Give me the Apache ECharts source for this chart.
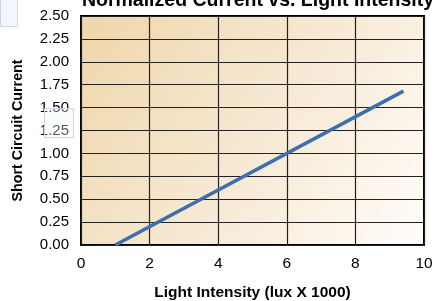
<!DOCTYPE html>
<html><head><meta charset="utf-8">
<script src="https://cdn.jsdelivr.net/npm/echarts@6/dist/echarts.min.js"></script>
<style>html,body{margin:0;padding:0;background:#fff}#c{width:434px;height:301px}</style>
</head><body><div id="c"></div>
<script>
const titleText = "Normalized Current vs. Light Intensity";
const xAxisName = "Light Intensity (lux X 1000)";
const yAxisName = "Short Circuit Current";
const lightIntensity = [1.0, 9.4];
const shortCircuitCurrent = [0.0, 1.68];

const chart = echarts.init(document.getElementById('c'));
const font = '"Liberation Sans", Arial, Helvetica, sans-serif';
chart.setOption({
  animation: false,
  title: {
    text: titleText, left: 253, textAlign: 'center', top: -14,
    textStyle: {fontFamily: font, fontWeight: 'bold', fontSize: 19.5, color: '#000'}
  },
  grid: {
    left: 81, right: 10, top: 16, bottom: 56, show: true,
    outerBoundsMode: 'none', containLabel: false,
    borderColor: '#000', borderWidth: 2,
    backgroundColor: new echarts.graphic.LinearGradient(0, 0, 1, 1, [
      {offset: 0, color: '#efd6aa'},
      {offset: 0.55, color: '#f7ead6'},
      {offset: 1, color: '#fffdfa'}
    ])
  },
  xAxis: {
    type: 'value', min: 0, max: 10, interval: 2,
    name: xAxisName, nameLocation: 'middle', nameGap: 40,
    nameTextStyle: {fontFamily: font, fontWeight: 'bold', fontSize: 15.5, color: '#000'},
    axisLine: {show: false}, axisTick: {show: false},
    axisLabel: {fontFamily: font, fontSize: 15.5, color: '#000', margin: 11},
    splitLine: {show: true, lineStyle: {color: '#222', width: 1.2}}
  },
  yAxis: {
    type: 'value', min: 0, max: 2.5, interval: 0.25,
    name: yAxisName, nameLocation: 'middle', nameGap: 56, nameRotate: 90,
    nameTextStyle: {fontFamily: font, fontWeight: 'bold', fontSize: 14.3, color: '#000'},
    axisLine: {show: false}, axisTick: {show: false},
    axisLabel: {fontFamily: font, fontSize: 15, color: '#000', margin: 12,
      formatter: v => v.toFixed(2)},
    splitLine: {show: true, lineStyle: {color: '#222', width: 1.2}}
  },
  series: [{
    type: 'line', showSymbol: false,
    data: lightIntensity.map((x, i) => [x, shortCircuitCurrent[i]]),
    lineStyle: {color: '#3a6fb2', width: 3.5}
  }],
  graphic: [
    {type: 'rect', shape: {x: 0.5, y: -1, width: 17, height: 27.5},
     style: {fill: 'rgba(240,245,252,0.8)', stroke: '#c8d6e8', lineWidth: 1}, z: 100},
    {type: 'rect', shape: {x: 44.5, y: 108.5, width: 29, height: 29},
     style: {fill: 'rgba(240,245,252,0.35)', stroke: '#c8d6e8', lineWidth: 1}, z: 100}
  ]
});
</script></body></html>
